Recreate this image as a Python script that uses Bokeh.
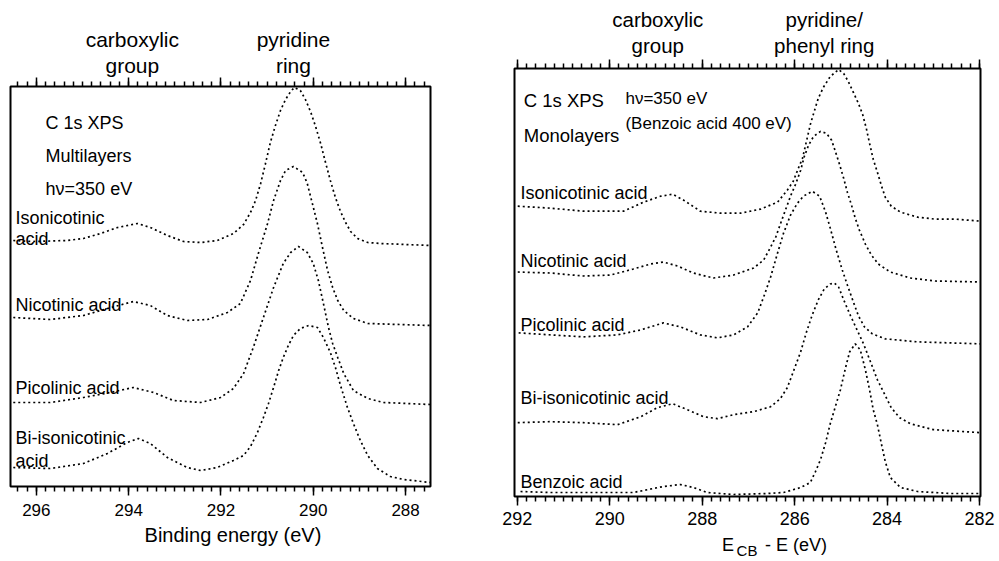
import numpy as np
from bokeh.plotting import figure
from bokeh.models import Range1d, LinearAxis, FixedTicker, Label, PrintfTickFormatter
from bokeh.layouts import row, column
from bokeh.embed import file_html
from bokeh.resources import INLINE

FONT = "Liberation Sans"

# ---------------- Left panel: C 1s XPS, multilayers (binding energy, eV; intensity arb. units, offset) -----
ml_iso_E = [296.50, 296.07, 295.33, 294.98, 294.61, 294.24, 293.81, 293.53, 293.16, 292.81, 292.44, 292.08,
            291.73, 291.51, 291.36, 291.25, 291.14, 291.04, 290.93, 290.82, 290.71, 290.60, 290.49, 290.41,
            290.28, 290.17, 290.06, 289.95, 289.84, 289.74, 289.63, 289.52, 289.41, 289.30, 289.19, 289.04,
            288.82, 288.54, 287.46]
ml_iso_I = [246, 245, 246, 248, 253, 259, 263, 259, 251, 245, 244, 246,
            253, 262, 274, 286, 303, 322, 344, 361, 376, 387, 395, 399,
            396, 387, 375, 360, 343, 325, 306, 289, 275, 264, 255, 248,
            244, 243, 241]

ml_nic_E = [296.50, 295.70, 294.98, 294.46, 293.90, 293.53, 293.16, 292.73, 292.29, 291.86, 291.58, 291.36,
            291.19, 290.99, 290.86, 290.71, 290.60, 290.43, 290.23, 290.13, 290.02, 289.91, 289.80, 289.69,
            289.58, 289.47, 289.34, 289.13, 288.82, 287.46]
ml_nic_I = [169, 167, 171, 178, 185, 181, 171, 166, 167, 174, 183, 206,
            233, 263, 286, 306, 316, 320, 314, 303, 283, 263, 239, 216,
            199, 186, 176, 168, 163, 161]

ml_pic_E = [296.50, 295.70, 294.98, 294.40, 293.90, 293.46, 293.03, 292.44, 292.01, 291.73, 291.51, 291.30,
            291.08, 290.86, 290.65, 290.49, 290.32, 290.13, 290.00, 289.89, 289.78, 289.67, 289.58, 289.47,
            289.34, 289.13, 288.82, 288.48, 287.46]
ml_pic_I = [84, 84, 89, 94, 99, 94, 86, 84, 89, 98, 113, 139,
            169, 199, 223, 234, 240, 234, 223, 206, 183, 159, 143, 129,
            113, 96, 88, 84, 82]

ml_bi_E = [296.50, 295.70, 294.98, 294.46, 294.03, 293.79, 293.53, 293.16, 292.73, 292.44, 292.08, 291.73,
           291.51, 291.36, 291.21, 291.08, 290.97, 290.86, 290.75, 290.65, 290.54, 290.43, 290.28, 290.10,
           289.91, 289.78, 289.63, 289.52, 289.41, 289.26, 289.13, 288.98, 288.82, 288.61, 288.33, 288.04,
           287.46]
ml_bi_I = [19, 18, 23, 33, 44, 48, 43, 29, 19, 16, 19, 26,
           31, 40, 54, 69, 83, 99, 116, 129, 141, 151, 158, 161,
           159, 149, 134, 119, 101, 79, 63, 46, 31, 18, 10, 7,
           4]

# ---------------- Right panel: C 1s XPS, monolayers (E_CB - E, eV) ----------------
mo_iso_E = [291.99, 291.28, 290.57, 289.70, 289.27, 288.90, 288.64, 288.40, 288.04, 287.60, 287.17, 286.74,
            286.37, 286.16, 286.03, 285.92, 285.83, 285.75, 285.66, 285.57, 285.49, 285.38, 285.23, 285.05,
            284.94, 284.84, 284.73, 284.62, 284.53, 284.45, 284.38, 284.30, 284.21, 284.12, 284.04, 283.91,
            283.71, 283.34, 282.96, 282.52, 281.98]
mo_iso_I = [291, 289, 286, 286, 295, 301, 303, 297, 286, 284, 284, 288,
            295, 307, 316, 329, 339, 355, 373, 387, 399, 410, 421, 428,
            424, 416, 405, 394, 383, 369, 354, 338, 325, 311, 300, 291,
            285, 280, 278, 278, 276]

mo_nic_E = [291.99, 291.28, 290.57, 289.98, 289.49, 289.12, 288.84, 288.53, 288.19, 287.76, 287.32, 286.89,
            286.67, 286.52, 286.41, 286.31, 286.20, 286.09, 285.98, 285.87, 285.79, 285.70, 285.59, 285.44,
            285.31, 285.20, 285.12, 285.03, 284.94, 284.86, 284.77, 284.69, 284.60, 284.47, 284.34, 284.19,
            283.93, 283.50, 282.96, 281.98]
mo_nic_I = [225, 224, 221, 222, 228, 233, 235, 231, 224, 219, 222, 229,
            237, 250, 260, 273, 287, 301, 313, 327, 341, 352, 361, 366,
            364, 357, 346, 333, 319, 305, 292, 279, 267, 253, 242, 233,
            225, 219, 216, 215]

mo_pic_E = [291.97, 291.28, 290.57, 289.83, 289.33, 288.84, 288.47, 288.04, 287.67, 287.32, 287.02, 286.80,
            286.67, 286.52, 286.37, 286.24, 286.09, 285.94, 285.81, 285.62, 285.46, 285.33, 285.23, 285.10,
            284.97, 284.86, 284.73, 284.62, 284.49, 284.32, 284.04, 283.34, 281.98]
mo_pic_I = [164, 162, 160, 162, 167, 174, 170, 162, 159, 162, 170, 184,
            200, 220, 244, 264, 282, 294, 301, 306, 301, 285, 269, 247,
            227, 212, 195, 181, 170, 163, 158, 155, 153]

mo_bi_E = [291.99, 291.28, 290.57, 289.83, 289.33, 288.97, 288.64, 288.32, 287.97, 287.67, 287.32, 286.89,
           286.52, 286.31, 286.16, 286.03, 285.87, 285.75, 285.62, 285.49, 285.36, 285.23, 285.14, 285.05,
           284.92, 284.79, 284.64, 284.51, 284.36, 284.21, 284.06, 283.91, 283.73, 283.50, 283.00, 281.98]
mo_bi_I = [74, 75, 74, 72, 80, 89, 93, 87, 80, 78, 82, 85,
           90, 98, 109, 125, 145, 164, 182, 197, 208, 213, 214, 210,
           195, 181, 166, 153, 135, 117, 103, 89, 79, 73, 67, 64]

mo_benz_E = [291.93, 291.28, 290.57, 289.49, 288.84, 288.47, 288.19, 287.89, 287.32, 286.59, 286.24, 285.87,
             285.66, 285.55, 285.44, 285.33, 285.23, 285.12, 285.01, 284.90, 284.81, 284.69, 284.58, 284.47,
             284.38, 284.30, 284.21, 284.12, 284.04, 283.93, 283.71, 283.34, 282.63, 281.98]
mo_benz_I = [5, 4, 4, 4, 10, 12, 9, 4, 2, 3, 4, 9,
             14, 25, 37, 54, 73, 90, 107, 129, 145, 153, 147, 127,
             107, 87, 72, 52, 35, 19, 9, 5, 3, 3]

left_major = [288, 290, 292, 294, 296]
right_major = [282, 284, 286, 288, 290, 292]


def make_panel(width, borders, xr, yr, majors, minor_lo, minor_hi, label_size, standoff):
    bl, br, bt, bb = borders
    p = figure(width=width, height=561, x_range=Range1d(*xr), y_range=Range1d(*yr),
               output_backend="svg", toolbar_location=None, y_axis_type=None,
               min_border_left=bl, min_border_right=br, min_border_top=bt, min_border_bottom=bb)
    p.title.visible = False
    p.xgrid.visible = False
    p.ygrid.visible = False
    p.outline_line_color = "black"
    p.outline_line_width = 2
    p.outline_line_alpha = 1
    minors = [round(v, 1) for v in np.arange(minor_lo, minor_hi + 0.001, 0.2)]
    ax = p.xaxis[0]
    ax.ticker = FixedTicker(ticks=majors, minor_ticks=minors)
    ax.axis_line_color = None
    ax.major_tick_in = 0
    ax.major_tick_out = 9
    ax.minor_tick_in = 0
    ax.minor_tick_out = 5
    ax.major_tick_line_width = 1.5
    ax.minor_tick_line_width = 1.5
    ax.major_tick_line_color = "black"
    ax.minor_tick_line_color = "black"
    ax.major_label_text_font = FONT
    ax.major_label_text_font_size = label_size
    ax.major_label_text_color = "black"
    ax.major_label_standoff = standoff
    top = LinearAxis(ticker=FixedTicker(ticks=majors, minor_ticks=minors),
                     formatter=PrintfTickFormatter(format=""))
    top.axis_line_color = None
    top.major_tick_in = 0
    top.major_tick_out = 9
    top.minor_tick_in = 0
    top.minor_tick_out = 5
    top.major_tick_line_width = 1.5
    top.minor_tick_line_width = 1.5
    top.major_label_standoff = 0
    top.major_label_text_font_size = "1px"
    p.add_layout(top, "above")
    return p


def text_axis(p, side, ticks, texts, size, standoff):
    ax = LinearAxis(ticker=FixedTicker(ticks=ticks, minor_ticks=[]),
                    major_label_overrides={t: s for t, s in zip(ticks, texts)})
    ax.axis_line_color = None
    ax.major_tick_line_color = None
    ax.minor_tick_line_color = None
    ax.major_tick_in = 0
    ax.major_tick_out = 0
    ax.minor_tick_in = 0
    ax.minor_tick_out = 0
    ax.major_label_text_font = FONT
    ax.major_label_text_font_size = size
    ax.major_label_text_color = "black"
    ax.major_label_standoff = standoff
    p.add_layout(ax, side)


def add_text(p, x, y, text, size, align="left"):
    p.add_layout(Label(x=x, y=y, text=text, text_font=FONT, text_font_size=size,
                       text_color="black", text_align=align, text_baseline="alphabetic"))


DASH = "2 3"
LW = 1.7

# ---------------- left figure ----------------
p1 = make_panel(480, (10, 50, 86, 75), (296.56, 287.46), (0, 400), left_major, 287.6, 296.4, "17px", 8)
for E, I in [(ml_iso_E, ml_iso_I), (ml_nic_E, ml_nic_I), (ml_pic_E, ml_pic_I), (ml_bi_E, ml_bi_I)]:
    p1.line(E, I, line_color="black", line_width=LW, line_dash=DASH)

add_text(p1, 295.80, 364, "C 1s XPS", "18px")
add_text(p1, 295.80, 331, "Multilayers", "18px")
add_text(p1, 295.80, 298, "h\u03bd=350 eV", "18px")
add_text(p1, 296.45, 269, "Isonicotinic", "18px")
add_text(p1, 296.45, 248, "acid", "18px")
add_text(p1, 296.45, 182, "Nicotinic acid", "18px")
add_text(p1, 296.45, 99, "Picolinic acid", "18px")
add_text(p1, 296.45, 49, "Bi-isonicotinic", "18px")
add_text(p1, 296.45, 26, "acid", "18px")
text_axis(p1, "above", [293.92, 290.43], ["group", "ring"], "21px", 1)
text_axis(p1, "above", [293.92, 290.43], ["carboxylic", "pyridine"], "21px", 0)
text_axis(p1, "below", [291.74], ["Binding energy (eV)"], "20px", 5)

# ---------------- right figure ----------------
p2 = make_panel(519, (34, 19, 68, 64), (292.06, 281.98), (0, 429), right_major, 282.0, 292.0, "18px", 6)
for E, I in [(mo_iso_E, mo_iso_I), (mo_nic_E, mo_nic_I), (mo_pic_E, mo_pic_I),
             (mo_bi_E, mo_bi_I), (mo_benz_E, mo_benz_I)]:
    p2.line(E, I, line_color="black", line_width=LW, line_dash=DASH)

add_text(p2, 291.86, 397, "C 1s XPS", "18.5px")
add_text(p2, 291.86, 362, "Monolayers", "18.5px")
add_text(p2, 289.66, 399, "h\u03bd=350 eV", "17px")
add_text(p2, 289.66, 374, "(Benzoic acid 400 eV)", "17px")
add_text(p2, 291.93, 304, "Isonicotinic acid", "18px")
add_text(p2, 291.93, 236, "Nicotinic acid", "18px")
add_text(p2, 291.93, 172, "Picolinic acid", "18px")
add_text(p2, 291.93, 99, "Bi-isonicotinic acid", "18px")
add_text(p2, 291.93, 15, "Benzoic acid", "18px")
text_axis(p2, "above", [288.96, 285.36], ["group", "phenyl ring"], "20.5px", 3)
text_axis(p2, "above", [288.96, 285.36], ["carboxylic", "pyridine/"], "20.5px", 0)
text_axis(p2, "below", [287.44, 285.97], ["E", "- E (eV)"], "18px", 7)
text_axis(p2, "below", [287.03], ["CB"], "15px", -16)

p1.align = "start"
p2.align = "start"
layout = row(p1, column(p2), spacing=0)
open("out.html", "w").write(file_html(layout, INLINE))
